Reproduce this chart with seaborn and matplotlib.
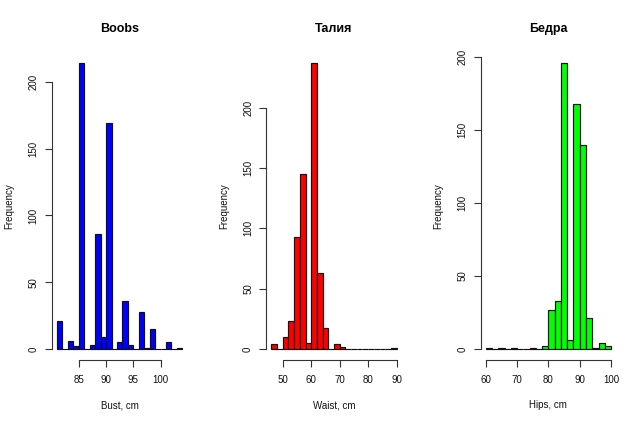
import numpy as np
import pandas as pd
import matplotlib
matplotlib.use("Agg")
import matplotlib.pyplot as plt
import seaborn as sns

# ---- data (histogram bins and counts) ----
bust_edges = list(range(81, 105, 1))
bust_counts = [21, 0, 6, 2, 214, 0, 3, 86, 9, 169, 0, 5, 36, 3, 0, 28, 1, 15, 0, 0, 5, 0, 1]
bust_xticks = [85, 90, 95, 100]

waist_edges = list(range(46, 92, 2))
waist_counts = [4, 0, 10, 23, 93, 145, 5, 237, 63, 17, 0, 4, 2, 0, 0, 0, 0, 0, 0, 0, 0, 1]
waist_xticks = [50, 60, 70, 80, 90]

hips_edges = list(range(60, 102, 2))
hips_counts = [1, 0, 1, 0, 1, 0, 0, 1, 0, 2, 27, 33, 196, 6, 168, 140, 21, 1, 4, 2]
hips_xticks = [60, 70, 80, 90, 100]

yticks = [0, 50, 100, 150, 200]
titles = ["Boobs", "Талия", "Бедра"]
xlabels = ["Bust, cm", "Waist, cm", "Hips, cm"]
colors = ["#0000FF", "#FF0000", "#00FF00"]

sns.set_style("ticks")
plt.rcParams["font.family"] = ["Liberation Sans", "DejaVu Sans"]

W, H = 643, 425
fig = plt.figure(figsize=(W / 100, H / 100), dpi=100)

lefts = [52.0, 266.3, 480.7]
ax_w, ax_top, ax_bot = 135.4, 51.8, 360.4

panels = [
    (bust_edges, bust_counts, bust_xticks),
    (waist_edges, waist_counts, waist_xticks),
    (hips_edges, hips_counts, hips_xticks),
]

for i, (edges, counts, xt) in enumerate(panels):
    ax = fig.add_axes([lefts[i] / W, (H - ax_bot) / H, ax_w / W, (ax_bot - ax_top) / H])
    e = np.asarray(edges, dtype=float)
    df = pd.DataFrame({"value": (e[:-1] + e[1:]) / 2, "count": counts})
    sns.histplot(data=df, x="value", weights="count", bins=[float(v) for v in edges],
                 ax=ax, color=colors[i], edgecolor="#111111", linewidth=0.85,
                 alpha=1, stat="count")
    # R-style 4% axis extension
    lo, hi = e[0], e[-1]
    ax.set_xlim(lo - 0.04 * (hi - lo), hi + 0.04 * (hi - lo))
    cmax = max(counts)
    ax.set_ylim(-0.04 * cmax, 1.04 * cmax)
    ax.set_xticks(xt)
    ax.set_yticks(yticks)
    ax.set_xticklabels([str(v) for v in xt])
    ax.set_yticklabels([str(v) for v in yticks], rotation=90, va="center")
    for s in ["top", "right"]:
        ax.spines[s].set_visible(False)
    ax.spines["left"].set_bounds(yticks[0], yticks[-1])
    ax.spines["bottom"].set_bounds(xt[0], xt[-1])
    for s in ["left", "bottom"]:
        ax.spines[s].set_linewidth(0.8)
        ax.spines[s].set_color("#333333")
    ax.tick_params(axis="both", direction="out", length=5, width=0.8,
                   color="#333333", labelsize=7, labelcolor="#111111")
    ax.tick_params(axis="x", pad=5.3)
    ax.tick_params(axis="y", pad=4.5)
    ax.set_title(titles[i], fontsize=9, fontweight="bold", pad=14.6, color="black")
    ax.set_xlabel(xlabels[i], fontsize=7, va="center", color="#111111")
    ax.set_ylabel("Frequency", fontsize=7, va="center", color="#111111")
    ax.xaxis.set_label_coords(0.5, (ax_bot - 405.0) / (ax_bot - ax_top))
    ax.yaxis.set_label_coords((9.5 - 52.0) / ax_w, 0.5)
    ax.grid(False)

fig.savefig("out.png", dpi=100, facecolor="white")
